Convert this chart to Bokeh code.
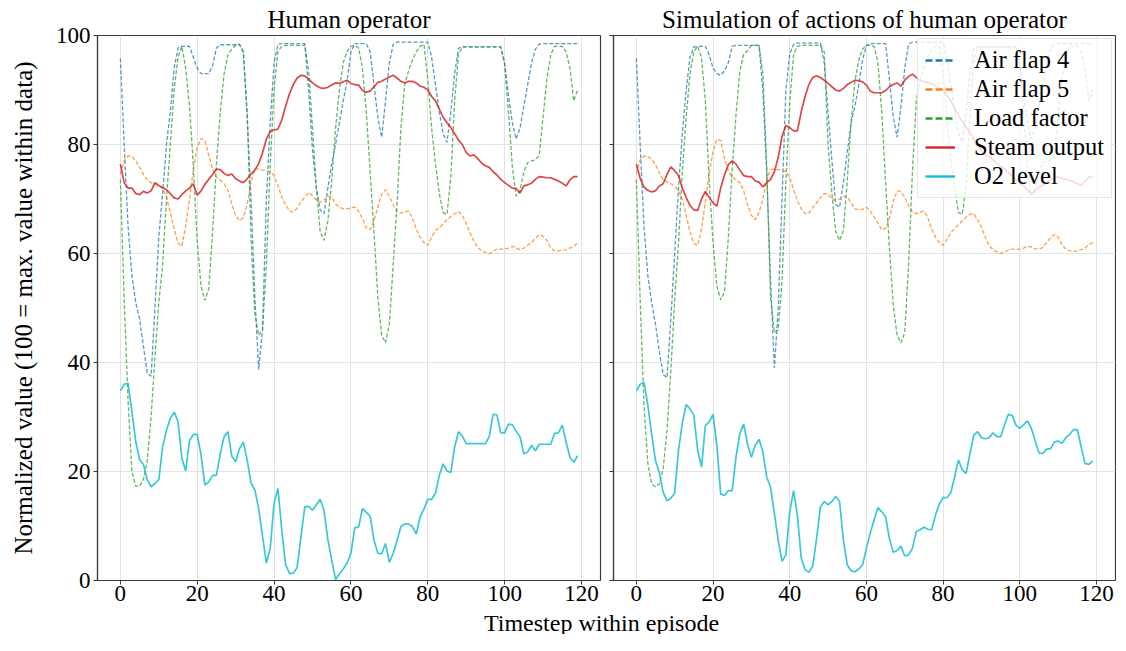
from bokeh.plotting import figure
from bokeh.models import Range1d, Legend, LegendItem, ColumnDataSource, Label, FixedTicker
from bokeh.layouts import column, row
from bokeh.embed import file_html
from bokeh.resources import INLINE

# ---------------- data ----------------
timesteps = list(range(120))

panel_titles = ["Human operator", "Simulation of actions of human operator"]
series_names = ["Air flap 4", "Air flap 5", "Load factor", "Steam output", "O2 level"]
x_ticks = [0, 20, 40, 60, 80, 100, 120]
y_ticks = [0, 20, 40, 60, 80, 100]
x_label = "Timestep within episode"
y_label = "Normalized value (100 = max. value within data)"

# Human operator
air_flap4_human = [
    95.8, 80, 65, 56, 51, 48, 43, 38, 37.5, 50,
    63, 71, 80, 86, 94, 97.7, 98, 98, 98, 96,
    94, 93, 93, 93, 94.5, 97.7, 98.3, 98.3, 98.3, 98.3,
    98.3, 98.3, 97, 85, 70, 52, 38.7, 46, 70, 84,
    95, 98.4, 98.5, 98.5, 98.5, 98.5, 98.5, 98.5, 98.5, 90,
    79, 72, 68, 67.3, 72, 76.4, 80, 84, 88, 91.6,
    97, 98.5, 98.5, 98.5, 98.5, 97, 91, 85, 81.3, 88,
    95, 98.4, 98.8, 98.8, 98.8, 98.8, 98.8, 98.8, 98.8, 98.8,
    98.8, 96, 91, 86, 82, 80.4, 86, 93, 97.7, 97.9,
    97.9, 97.9, 97.9, 97.9, 97.9, 97.9, 97.9, 97.9, 97.9, 97.9,
    95, 89, 84, 81, 83, 87, 91, 95, 97.5, 98.4,
    98.5, 98.5, 98.5, 98.5, 98.5, 98.5, 98.5, 98.5, 98.5, 98.5]
air_flap5_human = [
    74.6, 77, 77.9, 77.8, 77, 75.8, 74.5, 73.5, 73, 72.7,
    72.3, 72, 70.3, 67.5, 64.5, 62, 61.3, 65, 70, 75.5,
    79.5, 81.1, 80.7, 78, 75.5, 74, 73.5, 72.8, 71.6, 69,
    67, 66, 66.6, 69, 73, 75.5, 75.5, 75.3, 75.2, 75,
    74.3, 72.5, 70.3, 69, 67.8, 67.6, 68.3, 69.5, 70.3, 71.2,
    70.6, 69.8, 69.4, 69.8, 70.6, 70.3, 69.1, 68.5, 68.2, 68.2,
    68.4, 68.5, 67.8, 66.4, 64.7, 64.4, 66, 68.5, 70.9, 71.7,
    70.5, 69, 67.6, 67.4, 67.6, 67.8, 66.5, 64.5, 63, 62,
    61.5, 63, 64.2, 64.8, 65.4, 66.2, 66.8, 67.3, 67.7, 67,
    65.5, 63.8, 62.3, 61.1, 60.5, 60.2, 59.9, 60.4, 60.8, 60.8,
    60.8, 61, 61.3, 61, 60.7, 61, 61.5, 62, 62.8, 63.4,
    63.2, 62.4, 61, 60.5, 60.5, 60.6, 60.7, 61, 61.3, 62]
load_factor_human = [
    73.6, 51.4, 33, 20, 17.3, 17.3, 18.5, 22, 30, 41,
    51, 58, 70, 80, 90, 96, 98, 94, 87, 76,
    62, 54, 51.4, 53.5, 64, 76.4, 86, 93, 96.5, 97.5,
    98.2, 98.4, 97, 86, 63, 49, 45, 46, 58, 76.4,
    90, 97.1, 98, 98.2, 98.2, 98.2, 98.2, 98.2, 98.2, 93.5,
    83, 72, 64, 62.4, 66, 73.3, 83, 90, 95, 97.1,
    98, 98.2, 97.7, 94, 86, 75, 64, 52, 45, 43.6,
    47, 58, 69, 83, 91, 93.5, 95.5, 97, 98, 98.4,
    92, 83, 76.4, 71, 67.5, 67.2, 74, 88, 96.5, 97.9,
    97.9, 97.9, 97.9, 97.9, 97.9, 97.9, 97.9, 97.9, 97.9, 97.9,
    94.7, 86, 76, 70.5, 71.5, 75, 76.7, 77, 77.2, 78,
    85, 92, 96.5, 98, 98, 98, 97, 94, 88, 90.1]
steam_output_human = [
    76.4, 73, 72, 72, 71, 70.8, 71.4, 71.1, 71.5, 73,
    72.5, 72.1, 71.7, 71, 70.2, 70, 70.8, 71.5, 72, 72.8,
    70.7, 71.5, 72.7, 73.6, 74.5, 75.5, 75.4, 74.7, 74.3, 74.6,
    73.7, 73.3, 73, 73.7, 74.6, 75.3, 76.5, 78.5, 81, 82.4,
    82.7, 82.8, 84.5, 87, 89.3, 91, 92.2, 92.7, 92.6, 92,
    91.3, 90.8, 90.4, 90.3, 90.5, 90.9, 91.3, 91.2, 91.5, 91.8,
    91.2, 91, 90.9, 89.9, 89.6, 89.8, 90.6, 91.4, 91.6, 92,
    92.4, 92.7, 92.2, 91.6, 91.3, 91.6, 91.6, 91.3, 90.7, 90.5,
    90, 88.8, 88, 86.5, 85, 84, 83.1, 82, 80.8, 80,
    78.5, 77.9, 78.1, 77.4, 76.6, 76.1, 75.8, 75, 74.4, 73.6,
    73, 72.5, 72, 71.9, 71.1, 72.4, 72.6, 72.9, 73.6, 74.1,
    74, 73.9, 73.9, 73.6, 73.3, 72.9, 72.4, 73.5, 74.1, 74.1]
o2_level_human = [
    34.8, 36, 36.2, 31, 25.5, 22.2, 21.3, 18.5, 17.2, 17.8,
    18.5, 24.5, 27.6, 29.7, 30.9, 29.2, 22.5, 20.1, 25.7, 26.8,
    26.8, 23, 17.5, 18.1, 19.3, 19.3, 23.3, 26.4, 27.3, 22.8,
    21.8, 24.2, 25.4, 22.1, 17.9, 16.6, 13.2, 8.1, 3.2, 5.9,
    14.2, 16.9, 9.3, 2.9, 1.3, 1.3, 2.4, 8.1, 13.5, 13.6,
    12.9, 13.9, 14.9, 12.9, 7.5, 3.8, 0.2, 1.2, 2.1, 3.2,
    5, 9.7, 9.8, 13.2, 12.5, 11.8, 7.4, 5, 4.9, 6.8,
    3.3, 5, 7.3, 9.9, 10.4, 10.4, 9.9, 8.5, 11.7, 13.1,
    14.9, 14.9, 16, 19.3, 21.4, 20.1, 19.8, 24.5, 27.3, 26.5,
    25.1, 25.1, 25.1, 25.1, 25.1, 25.1, 26.4, 30.5, 30.4, 27.1,
    27.1, 28.7, 28.6, 27.4, 26.4, 23.2, 23.6, 24.8, 23.8, 25,
    25, 25, 25, 27, 27.1, 28.5, 25.4, 22.6, 21.7, 22.9]

# Simulation
air_flap4_sim = [
    95.8, 80, 65, 56, 51, 47, 42, 37.8, 37.2, 48,
    60, 72, 82, 90, 96, 97.9, 98, 98, 98, 96.5,
    94, 93, 92.7, 93.5, 95, 98, 98.2, 98.2, 98.2, 98.2,
    98.2, 98.2, 98.2, 90, 75, 55, 39, 50, 70, 90,
    96.5, 98.4, 98.6, 98.6, 98.6, 98.6, 98.6, 98.6, 98.6, 95,
    86, 77, 69, 68.5, 73, 78.5, 84, 87, 91, 95.5,
    98.2, 98.5, 98.5, 98.5, 98.5, 98.5, 92, 85, 81.3, 87,
    94, 98.4, 98.8, 98.8, 98.8, 98.8, 98.8, 98.8, 98.8, 98.8,
    98.8, 96, 91, 86, 82, 80.4, 86, 93, 97.7, 97.9,
    97.9, 97.9, 97.9, 97.9, 97.9, 97.9, 97.9, 97.9, 97.9, 97.9,
    95, 89, 84, 81, 83, 87, 91, 95, 97.5, 98.4,
    98.5, 98.5, 98.5, 98.5, 98.5, 98.5, 98.5, 98.5, 98.5, 98.5]
air_flap5_sim = [
    74.6, 77.2, 77.9, 77.8, 77.3, 76.3, 74.8, 73.6, 73.1, 72.8,
    72.3, 71.5, 70, 67, 64, 61.8, 61.5, 64.5, 69.5, 74.6,
    78.8, 81, 80.7, 77.4, 75.2, 74, 73.5, 73, 71.5, 69,
    67, 66.2, 67.5, 70, 73.6, 75.4, 75.5, 75.4, 75.2, 75,
    74, 71.7, 69.7, 68.2, 67.3, 67.4, 68.4, 69.3, 70.2, 71,
    70.9, 70, 69.7, 70, 70.5, 70.4, 69.3, 68.2, 68, 68.1,
    68.5, 67.8, 66.7, 65.6, 64.3, 64.6, 66.5, 69.5, 71.5, 71.4,
    70.3, 68.8, 67.6, 67.3, 67.6, 67.8, 66.6, 64.5, 63, 62,
    61.5, 62.6, 63.8, 64.6, 65.3, 66, 66.7, 67.2, 67.3, 66.2,
    64.8, 63, 61.4, 60.7, 60.3, 60, 60.2, 60.6, 60.8, 60.8,
    60.8, 61, 61.3, 61.2, 60.9, 60.8, 61.1, 62, 62.9, 63.5,
    63, 61.6, 60.8, 60.5, 60.4, 60.5, 60.7, 61, 61.6, 62]
load_factor_sim = [
    73.6, 51.5, 32, 21.5, 17.7, 17.2, 17.7, 20.5, 27.5, 38.5,
    51.4, 62, 75, 85, 93, 97, 98, 96, 88, 73.3,
    62, 54, 51.5, 53, 63, 75.5, 85.5, 93.5, 96.6, 97.2,
    98.2, 98.2, 98.2, 93, 76, 52, 45.5, 46, 55, 73.3,
    87.5, 96.5, 98, 98.2, 98.2, 98.2, 98.2, 98.2, 98.2, 97,
    80, 71, 64, 62.4, 64.2, 73.3, 84, 91.6, 95.5, 97.5,
    98.2, 98.2, 98, 95, 86, 73, 61, 50.5, 45, 43.6,
    45.5, 58, 75, 88, 92, 94, 96, 97.5, 98, 98.2,
    93, 85, 77, 72, 67.5, 67.2, 72.5, 86, 95.5, 97.9,
    97.9, 97.9, 97.9, 97.9, 97.9, 97.9, 97.9, 97.9, 97.9, 97.9,
    94.7, 86, 76, 70.6, 72, 75, 76.7, 77, 77.2, 78,
    85, 92, 96.5, 98, 98, 98, 97, 94, 88, 90]
steam_output_sim = [
    76.4, 73.8, 72.2, 71.6, 71.3, 71.5, 72.4, 72.8, 74.5, 75.9,
    75.2, 74.3, 72, 70.3, 68.8, 68, 67.9, 70, 71.4, 70.3,
    69.3, 68.7, 72, 74.4, 76.3, 77, 76.4, 75.3, 74.3, 74.1,
    74.1, 73.3, 73.1, 72.2, 73, 73.6, 75, 77.6, 81.5, 83.5,
    83.1, 82.5, 82.5, 86, 88.8, 91, 92.3, 92.6, 92.3, 91.8,
    91.2, 90.6, 90, 89.8, 90.3, 91, 91.4, 91.8, 91.7, 91.5,
    90.9, 89.8, 89.5, 89.5, 89.5, 89.9, 90.6, 91, 91.3, 90.7,
    91.8, 92.5, 92.9, 92.3, 91.8, 91.5, 91.4, 91.2, 90.8, 90.4,
    90, 89, 88, 86.7, 85.3, 84.2, 83.2, 82.2, 81, 80,
    78.8, 78, 77.8, 77.2, 76.5, 76, 75.5, 74.9, 74.2, 73.5,
    72.9, 72.3, 71.7, 70.9, 71.5, 72.2, 72.5, 73, 73.5, 74,
    74, 73.8, 73.6, 73.4, 73.2, 72.8, 72.5, 73.3, 74, 74]
o2_level_sim = [
    34.8, 36, 36.4, 32.2, 26.8, 22, 19.8, 16.2, 14.6, 15.1,
    16, 23.9, 28.9, 32.3, 31.5, 30.3, 23.9, 20.8, 28.4, 29.1,
    30.5, 24.8, 15.9, 15.6, 16.5, 16.5, 22.7, 27, 28.7, 25,
    22.6, 24.8, 25.9, 23.6, 19, 17.1, 12.3, 7.4, 3.5, 4.7,
    12.6, 16.5, 12, 4.1, 2, 1.5, 2.6, 7.7, 13.5, 14.5,
    13.9, 14.5, 15.4, 14.5, 7.4, 2.9, 1.8, 1.6, 2.1, 2.9,
    5.9, 8.7, 11.1, 13.4, 12.6, 11.7, 7.7, 5.2, 5.5, 6.3,
    4.5, 4.7, 5.9, 9, 9.3, 9.8, 9.4, 9.3, 12, 14,
    15.2, 15.2, 16.1, 19, 22.1, 20.3, 19.6, 23.3, 26.7, 27.3,
    26.2, 26, 26.2, 27.1, 26.4, 26.4, 28.5, 30.5, 30.3, 28.5,
    27.9, 28.6, 29.3, 27.9, 25.7, 23.4, 23.3, 24.1, 24.2, 25.4,
    25.6, 25.2, 26.2, 26.8, 27.7, 27.7, 24.5, 21.5, 21.3, 21.9]

human_series = [air_flap4_human, air_flap5_human, load_factor_human,
                steam_output_human, o2_level_human]
sim_series = [air_flap4_sim, air_flap5_sim, load_factor_sim,
              steam_output_sim, o2_level_sim]

# ---------------- styles ----------------
FONT = "Liberation Serif"
colors = ["#1f77b4", "#ff7f0e", "#2ca02c", "#d62728", "#17becf"]
dashes = ["4 2", "4 2", "4 2", "solid", "solid"]
widths = [1.3, 1.3, 1.3, 1.7, 1.7]
alphas = [0.75, 0.75, 0.75, 0.85, 0.85]
SPINE = "#3a3a3a"
GRID = "#e3e3e3"


def make_panel(title, series, frame_w, left, right, show_y_labels):
    p = figure(frame_width=frame_w, frame_height=545,
               x_range=Range1d(-5.95, 124.95), y_range=Range1d(0, 100),
               output_backend="svg", toolbar_location=None,
               min_border_left=left, min_border_right=right,
               min_border_top=27, min_border_bottom=30, title=title)
    p.background_fill_color = "white"
    p.border_fill_color = "white"
    p.outline_line_color = SPINE
    p.outline_line_width = 1.2
    p.title.text_font = FONT
    p.title.text_font_size = "25px"
    p.title.text_font_style = "normal"
    p.title.text_color = "black"
    p.title.align = "center"
    p.title.standoff = 6

    p.xaxis.ticker = FixedTicker(ticks=x_ticks)
    p.yaxis.ticker = FixedTicker(ticks=y_ticks)
    p.xgrid.ticker = FixedTicker(ticks=x_ticks)
    p.ygrid.ticker = FixedTicker(ticks=y_ticks)
    for ax in (p.xaxis[0], p.yaxis[0]):
        ax.axis_line_color = SPINE
        ax.axis_line_width = 1.2
        ax.major_tick_line_color = SPINE
        ax.major_tick_out = 4
        ax.major_tick_in = 0
        ax.minor_tick_out = 0
        ax.minor_tick_in = 0
        ax.major_label_text_font = FONT
        ax.major_label_text_font_size = "23px"
        ax.major_label_text_color = "black"
    p.xaxis.major_label_standoff = 1
    p.yaxis.major_label_standoff = 3
    if show_y_labels:
        p.yaxis.axis_label = y_label
        p.yaxis.axis_label_text_font = FONT
        p.yaxis.axis_label_text_font_size = "25px"
        p.yaxis.axis_label_text_font_style = "normal"
        p.yaxis.axis_label_text_color = "black"
        p.yaxis.axis_label_standoff = 16
    else:
        p.yaxis.major_label_overrides = {t: "" for t in y_ticks}
        p.yaxis.major_label_standoff = 6
    p.xgrid.grid_line_color = GRID
    p.ygrid.grid_line_color = GRID
    p.xgrid.grid_line_width = 1
    p.ygrid.grid_line_width = 1

    for vals, c, d, w, a in zip(series, colors, dashes, widths, alphas):
        src = ColumnDataSource(data=dict(t=timesteps, v=vals))
        p.line("t", "v", source=src, line_color=c, line_dash=d,
               line_width=w, line_alpha=a)
    return p


p1 = make_panel(panel_titles[0], human_series, 503, 97, 3, True)
p2 = make_panel(panel_titles[1], sim_series, 502, 10, 1, False)

# legend with its own handles (drawn outside the visible range)
items = []
leg_dash = ["7 3", "7 3", "7 3", "solid", "solid"]
for name, c, d in zip(series_names, colors, leg_dash):
    r = p2.line(x=[-60, -50], y=[-50, -50], line_color=c, line_dash=d,
                line_width=2.4)
    items.append(LegendItem(label=name, renderers=[r]))
legend = Legend(items=items, location="top_right")
legend.label_text_font = FONT
legend.label_text_font_size = "24.5px"
legend.label_text_color = "black"
legend.glyph_width = 30
legend.glyph_height = 24
legend.label_height = 24
legend.label_standoff = 19
legend.spacing = 1
legend.padding = 7
legend.margin = 3
legend.border_line_color = "#cccccc"
legend.border_line_width = 1
legend.background_fill_color = "white"
legend.background_fill_alpha = 0.8
p2.add_layout(legend)

# shared x label strip (no axes at all, so the frame is the whole canvas)
W3 = 1116
H3 = 24
p3 = figure(width=W3, height=H3, x_range=Range1d(0, W3), y_range=Range1d(0, H3),
            x_axis_type=None, y_axis_type=None,
            output_backend="svg", toolbar_location=None,
            min_border=0, min_border_left=0, min_border_right=0,
            min_border_top=0, min_border_bottom=0)
p3.grid.visible = False
p3.outline_line_color = None
p3.background_fill_color = "white"
p3.border_fill_color = "white"
p3.add_layout(Label(x=601, y=H3 / 2, text=x_label, text_font=FONT,
                    text_font_size="24px", text_align="center",
                    text_baseline="middle", text_color="black"))

layout = column(row(p1, p2), p3)
open("out.html", "w").write(file_html(layout, INLINE))
